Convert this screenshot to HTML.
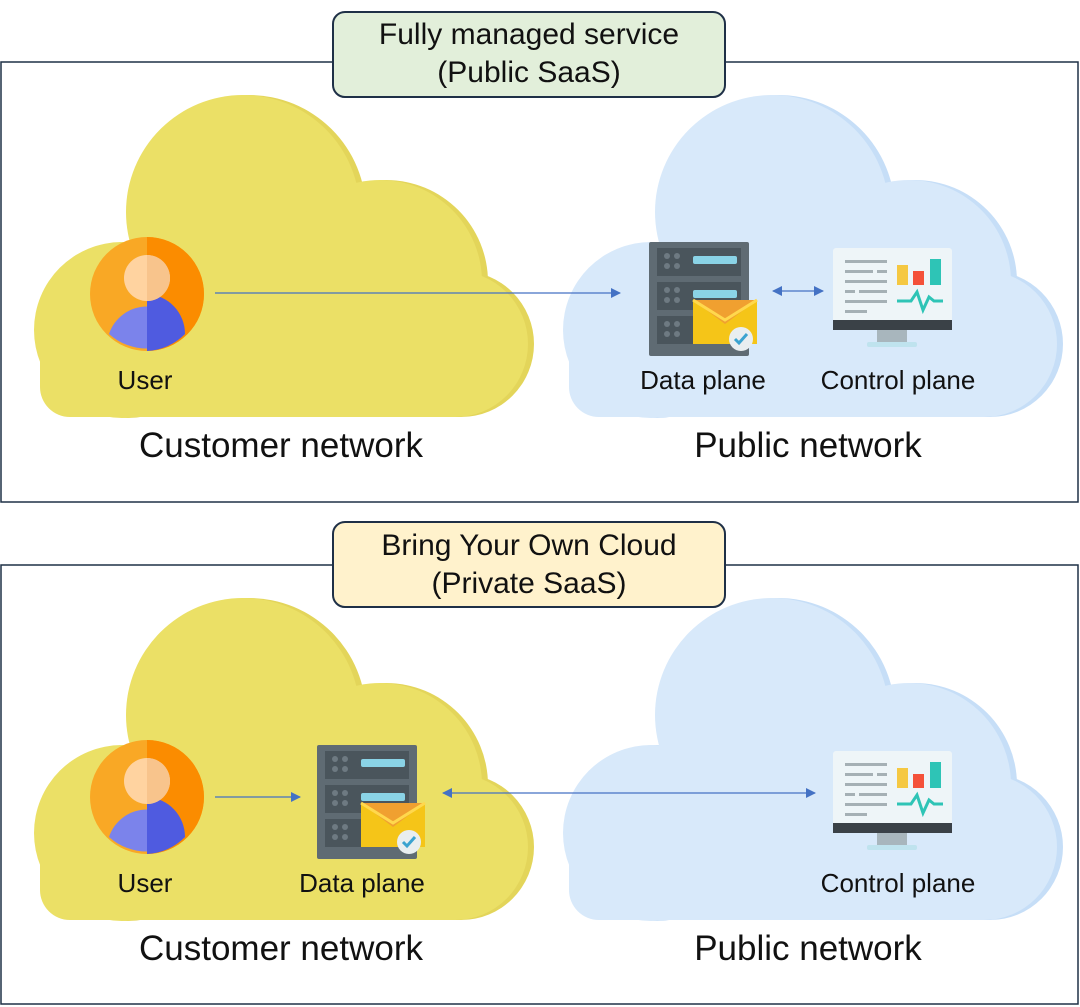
<!DOCTYPE html>
<html><head><meta charset="utf-8"><style>
body{margin:0;background:#fff}
svg{display:block}
text{font-family:"Liberation Sans","DejaVu Sans",sans-serif;fill:#111}
</style></head><body>
<svg width="1080" height="1007" viewBox="0 0 1080 1007" xmlns="http://www.w3.org/2000/svg">
<defs>
<marker id="ah" markerWidth="10" markerHeight="10" refX="9" refY="5" orient="auto-start-reverse" markerUnits="userSpaceOnUse"><path d="M0,0 L10,5 L0,10 z" fill="#4472C4"/></marker>
<g id="cloudShape">
 <circle cx="122" cy="330" r="88"/>
 <circle cx="243" cy="212" r="117"/>
 <circle cx="380" cy="282" r="102"/>
 <circle cx="455" cy="344" r="73"/>
 <rect x="122" y="300" width="333" height="117"/>
 <rect x="40" y="330" width="100" height="87" rx="30"/>
</g>
<g id="user">
 <circle cx="0" cy="0" r="57" fill="#F9A825"/>
 <path d="M0,-57 A57,57 0 0 1 0,57 z" fill="#FB8C00"/>
 <path d="M-38,40 A40,40 0 0 1 38,40 A57,57 0 0 1 -38,40 z" fill="#7B83EB"/>
 <path d="M0,0 A40,40 0 0 1 38,40 A57,57 0 0 1 0,57 z" fill="#4F5BE0"/>
 <circle cx="0" cy="-16" r="23" fill="#FFD3A0"/>
 <path d="M0,-39 A23,23 0 0 1 0,7 z" fill="#F8C48C"/>
</g>
<g id="server">
 <rect x="0" y="0" width="100" height="114" rx="2" fill="#5F6B73"/>
 <rect x="8" y="6" width="84" height="28" fill="#4A555C"/>
 <rect x="8" y="40" width="84" height="28" fill="#4A555C"/>
 <rect x="8" y="74" width="84" height="28" fill="#4A555C"/>
 <rect x="44" y="14" width="44" height="8" rx="2" fill="#8AD3E6"/>
 <rect x="44" y="48" width="44" height="8" rx="2" fill="#8AD3E6"/>
 <g fill="#6E7A82"><circle cx="18" cy="14" r="3"/><circle cx="28" cy="14" r="3"/><circle cx="18" cy="24" r="3"/><circle cx="28" cy="24" r="3"/><circle cx="18" cy="48" r="3"/><circle cx="28" cy="48" r="3"/><circle cx="18" cy="58" r="3"/><circle cx="28" cy="58" r="3"/><circle cx="18" cy="82" r="3"/><circle cx="28" cy="82" r="3"/><circle cx="18" cy="92" r="3"/><circle cx="28" cy="92" r="3"/></g>
 <rect x="44" y="58" width="64" height="44" fill="#F5C518"/>
 <path d="M44,58 L76,82 L108,58 z" fill="#F0A030"/>
 <path d="M44,58 L76,78 L108,58" fill="none" stroke="#FFD84D" stroke-width="3"/>
 <circle cx="92" cy="97" r="12" fill="#E9EEF0"/>
 <path d="M86,97 l4,4 l8,-9" stroke="#3BA3D0" stroke-width="3" fill="none"/>
</g>
<g id="monitor">
 <rect x="0" y="0" width="119" height="80" rx="3" fill="#EEF5F8"/>
 <rect x="0" y="72" width="119" height="10" fill="#3A4147"/>
 <rect x="44" y="82" width="30" height="12" fill="#A8B6BD"/>
 <rect x="34" y="94" width="50" height="5" rx="2" fill="#BFE3EE"/>
 <g fill="#A5B0B5"><rect x="12" y="12" width="42" height="3"/><rect x="12" y="22" width="28" height="3"/><rect x="44" y="22" width="10" height="3"/><rect x="12" y="32" width="42" height="3"/><rect x="12" y="42" width="10" height="3"/><rect x="26" y="42" width="28" height="3"/><rect x="12" y="52" width="42" height="3"/><rect x="12" y="62" width="22" height="3"/></g>
 <rect x="64" y="17" width="11" height="20" fill="#F5C842"/>
 <rect x="80" y="23" width="11" height="14" fill="#F4513A"/>
 <rect x="97" y="11" width="11" height="26" fill="#2EC4B6"/>
 <path d="M64,53 L78,53 L84,44 L90,62 L96,49 L101,53 L110,53" fill="none" stroke="#2EC4B6" stroke-width="3"/>
</g>
</defs>

<!-- TOP PANEL -->
<rect x="1" y="62" width="1077" height="440" fill="#fff" stroke="#1F3047" stroke-width="1.5"/>
<g fill="#E3D55A" transform="translate(6,0)"><use href="#cloudShape"/></g>
<g fill="#EBE066"><use href="#cloudShape"/></g>
<g fill="#C6DEF7" transform="translate(535,0)"><use href="#cloudShape"/></g>
<g fill="#D8E9FA" transform="translate(529,0)"><use href="#cloudShape"/></g>
<rect x="333" y="12" width="392" height="85" rx="12" fill="#E2EFDA" stroke="#1F3047" stroke-width="2"/>
<text x="529" y="44" font-size="30" text-anchor="middle">Fully managed service</text>
<text x="529" y="82" font-size="30" text-anchor="middle">(Public SaaS)</text>
<use href="#user" transform="translate(147,294)"/>
<text x="145" y="389" font-size="26" text-anchor="middle">User</text>
<line x1="215" y1="293" x2="620" y2="293" stroke="#4472C4" stroke-width="1.2" marker-end="url(#ah)"/>
<use href="#server" transform="translate(649,242)"/>
<text x="703" y="389" font-size="26" text-anchor="middle">Data plane</text>
<line x1="773" y1="291" x2="823" y2="291" stroke="#4472C4" stroke-width="1.2" marker-start="url(#ah)" marker-end="url(#ah)"/>
<use href="#monitor" transform="translate(833,248)"/>
<text x="898" y="389" font-size="26" text-anchor="middle">Control plane</text>
<text x="281" y="457" font-size="35" text-anchor="middle">Customer network</text>
<text x="808" y="457" font-size="35" text-anchor="middle">Public network</text>

<!-- BOTTOM PANEL -->
<g transform="translate(0,503)">
<rect x="1" y="62" width="1077" height="439" fill="#fff" stroke="#1F3047" stroke-width="1.5"/>
<g fill="#E3D55A" transform="translate(6,0)"><use href="#cloudShape"/></g>
<g fill="#EBE066"><use href="#cloudShape"/></g>
<g fill="#C6DEF7" transform="translate(535,0)"><use href="#cloudShape"/></g>
<g fill="#D8E9FA" transform="translate(529,0)"><use href="#cloudShape"/></g>
<rect x="333" y="19" width="392" height="85" rx="12" fill="#FFF2CC" stroke="#1F3047" stroke-width="2"/>
<text x="529" y="52" font-size="30" text-anchor="middle">Bring Your Own Cloud</text>
<text x="529" y="90" font-size="30" text-anchor="middle">(Private SaaS)</text>
<use href="#user" transform="translate(147,294)"/>
<text x="145" y="389" font-size="26" text-anchor="middle">User</text>
<line x1="215" y1="294" x2="300" y2="294" stroke="#4472C4" stroke-width="1.2" marker-end="url(#ah)"/>
<use href="#server" transform="translate(317,242)"/>
<text x="362" y="389" font-size="26" text-anchor="middle">Data plane</text>
<line x1="443" y1="290" x2="815" y2="290" stroke="#4472C4" stroke-width="1.2" marker-start="url(#ah)" marker-end="url(#ah)"/>
<use href="#monitor" transform="translate(833,248)"/>
<text x="898" y="389" font-size="26" text-anchor="middle">Control plane</text>
<text x="281" y="457" font-size="35" text-anchor="middle">Customer network</text>
<text x="808" y="457" font-size="35" text-anchor="middle">Public network</text>
</g>
</svg>
</body></html>
